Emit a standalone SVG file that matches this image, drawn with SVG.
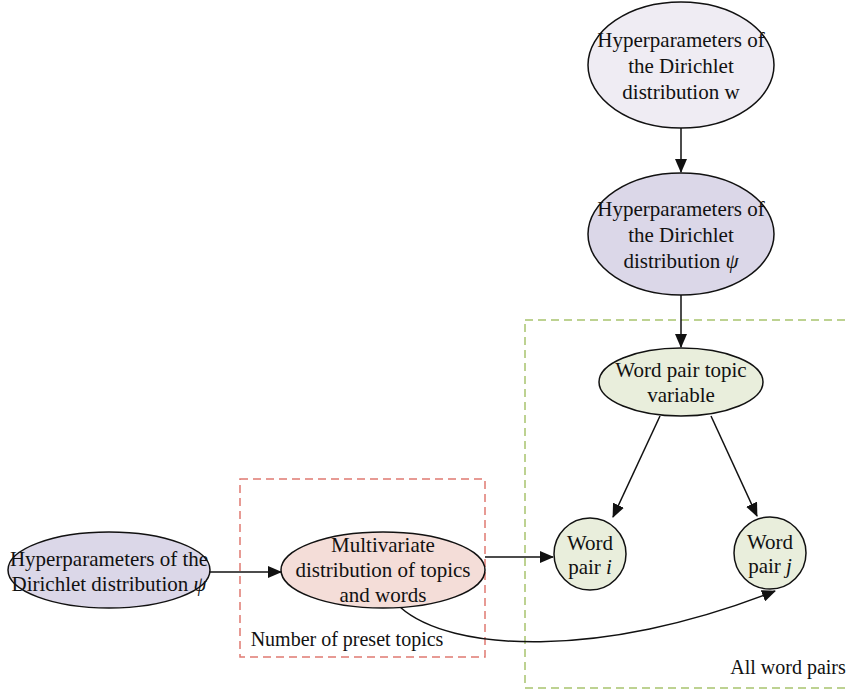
<svg xmlns="http://www.w3.org/2000/svg" width="849" height="690" viewBox="0 0 849 690" font-family="'Liberation Serif', 'Times New Roman', Times, serif">
<style>
.n{stroke:#111;stroke-width:1.5}
text{font-family:'Liberation Serif', 'Times New Roman', Times, serif;font-size:21px;fill:#111;text-anchor:middle}
text.s{font-size:20px}
.e{fill:none;stroke:#111;stroke-width:1.5}
</style>
<defs>
<marker id="a" markerWidth="14" markerHeight="12" refX="13" refY="6" orient="auto" markerUnits="userSpaceOnUse" viewBox="0 0 14 12">
<path d="M0,0 L14,6 L0,12 z" fill="#111"/>
</marker>
</defs>
<rect x="240" y="479" width="245" height="178" fill="none" stroke="#e07a72" stroke-width="1.5" stroke-dasharray="8,5"/>
<text class="s" x="347" y="646">Number of preset topics</text>
<rect x="525" y="320" width="340" height="368" fill="none" stroke="#a8c46e" stroke-width="1.5" stroke-dasharray="8,5"/>
<text class="s" x="788" y="674">All word pairs</text>
<g id="connectors">
<line class="e" x1="681" y1="128" x2="681" y2="172" marker-end="url(#a)"/>
<line class="e" x1="681" y1="295" x2="681" y2="347" marker-end="url(#a)"/>
<line class="e" x1="660" y1="416" x2="613" y2="517" marker-end="url(#a)"/>
<line class="e" x1="711" y1="416" x2="757" y2="516" marker-end="url(#a)"/>
<line class="e" x1="210" y1="572" x2="281" y2="572" marker-end="url(#a)"/>
<line class="e" x1="485" y1="557" x2="553" y2="557" marker-end="url(#a)"/>
<path class="e" d="M400,607 C450,652 600,660 775,591" marker-end="url(#a)"/>
</g>
<g id="hyper-w">
<ellipse class="n" cx="681" cy="65" rx="93" ry="63" fill="#efecf3"/>
<text x="681" y="47">Hyperparameters of</text>
<text x="681" y="73">the Dirichlet</text>
<text x="681" y="99">distribution w</text>
</g>
<g id="hyper-psi-top">
<ellipse class="n" cx="681" cy="234" rx="93" ry="61" fill="#dbd7e8"/>
<text x="681" y="216">Hyperparameters of</text>
<text x="681" y="242">the Dirichlet</text>
<text x="681" y="268">distribution <tspan font-style="italic">ψ</tspan></text>
</g>
<g id="topic-var">
<ellipse class="n" cx="681" cy="382" rx="82" ry="34" fill="#e9eedc"/>
<text x="681" y="377">Word pair topic</text>
<text x="681" y="402">variable</text>
</g>
<g id="pair-i">
<circle class="n" cx="590" cy="554" r="36" fill="#e9eedc"/>
<text x="590" y="550">Word</text>
<text x="590" y="574">pair <tspan font-style="italic">i</tspan></text>
</g>
<g id="pair-j">
<circle class="n" cx="770" cy="553" r="36" fill="#e9eedc"/>
<text x="770" y="549">Word</text>
<text x="770" y="573">pair <tspan font-style="italic">j</tspan></text>
</g>
<g id="hyper-psi-left">
<ellipse class="n" cx="109" cy="570" rx="101" ry="38" fill="#dbd7e8"/>
<text x="109" y="566">Hyperparameters of the</text>
<text x="109" y="591">Dirichlet distribution <tspan font-style="italic">ψ</tspan></text>
</g>
<g id="multivariate">
<ellipse class="n" cx="383" cy="570" rx="102" ry="38" fill="#f4ddd8"/>
<text x="383" y="552">Multivariate</text>
<text x="383" y="577">distribution of topics</text>
<text x="383" y="602">and words</text>
</g>
</svg>
